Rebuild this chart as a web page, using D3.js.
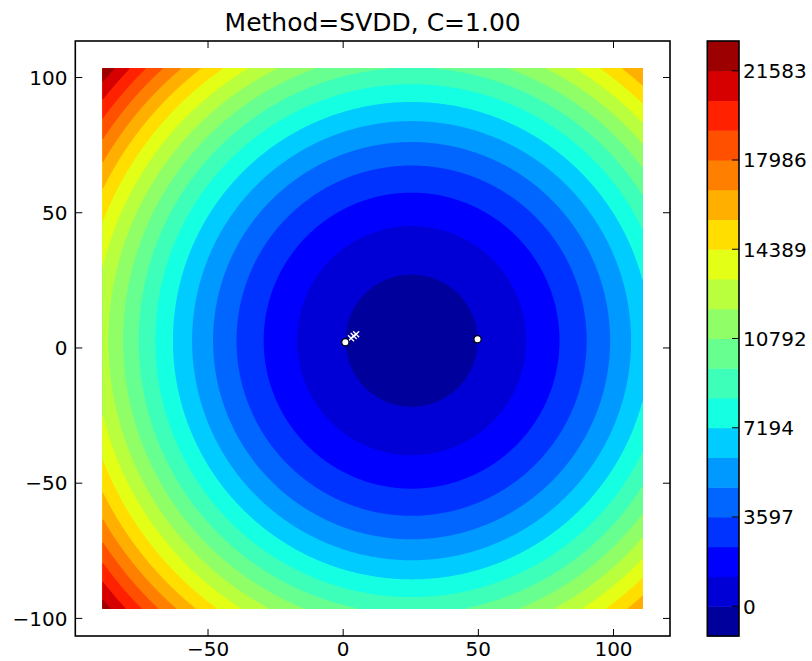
<!DOCTYPE html>
<html><head><meta charset="utf-8">
<script src="https://cdn.jsdelivr.net/npm/d3@7"></script>
<style>
body{margin:0;background:#fff}
svg{display:block}
text{font-family:"DejaVu Sans",sans-serif;fill:#000}
</style>
</head><body>
<svg id="chart" width="812" height="661"></svg>
<script>
// ---- data ----
const title = "Method=SVDD, C=1.00";
const xTicks = [-50, 0, 50, 100];
const yTicks = [-100, -50, 0, 50, 100];
const xDomain = [-99.1, 120.9];
const yDomain = [-106.5, 113.5];
const gridXRange = [-89.1, 110.9];
const gridYRange = [-96.5, 103.5];
const sphereCenter = [25.3, 2.7];
const sphereRadius2 = 597;
const levels = [-1199, 0, 1199, 2398, 3597, 4796, 5995, 7194, 8393, 9592, 10792,
                11991, 13190, 14389, 15588, 16787, 17986, 19185, 20384, 21583, 22782];
const colorbarTicks = [0, 3597, 7194, 10792, 14389, 17986, 21583];
const supportVectors = [[0.8, 2.1], [49.7, 3.2]];
const trainPoints = [[2.9, 3.6], [3.9, 4.4], [4.8, 5.1]];

// ---- jet colormap (matplotlib segment data) ----
const jetSeg = {
  r: [[0,0],[0.35,0],[0.66,1],[0.89,1],[1,0.5]],
  g: [[0,0],[0.125,0],[0.375,1],[0.64,1],[0.91,0],[1,0]],
  b: [[0,0.5],[0.11,1],[0.34,1],[0.65,0],[1,0]]
};
function segInterp(seg, t) {
  for (let i = 1; i < seg.length; i++) {
    if (t <= seg[i][0]) {
      const [x0, y0] = seg[i-1], [x1, y1] = seg[i];
      return y0 + (y1 - y0) * (t - x0) / (x1 - x0);
    }
  }
  return seg[seg.length-1][1];
}
function jet(t) {
  t = Math.max(0, Math.min(1, t));
  return d3.rgb(255*segInterp(jetSeg.r,t), 255*segInterp(jetSeg.g,t), 255*segInterp(jetSeg.b,t)).toString();
}
const nBands = levels.length - 1;
const bandColor = k => jet((k + 0.5) / nBands);

// ---- layout ----
const svg = d3.select("#chart");
const L = 75.3, R = 670, T = 41, B = 636;
const x = d3.scaleLinear().domain(xDomain).range([L, R]);
const y = d3.scaleLinear().domain(yDomain).range([B, T]);

// ---- field grid ----
const n = 400, m = 400;
const dx = (gridXRange[1] - gridXRange[0]) / n;
const dy = (gridYRange[1] - gridYRange[0]) / m;
const values = new Float64Array(n * m);
for (let j = 0; j < m; j++) {
  const gy = gridYRange[1] - (j + 0.5) * dy;
  for (let i = 0; i < n; i++) {
    const gx = gridXRange[0] + (i + 0.5) * dx;
    const ddx = gx - sphereCenter[0], ddy = gy - sphereCenter[1];
    values[j * n + i] = ddx*ddx + ddy*ddy - sphereRadius2;
  }
}
const contours = d3.contours().size([n, m]).thresholds(levels)(values);
const proj = d3.geoTransform({
  point(u, v) { this.stream.point(x(gridXRange[0] + u * dx), y(gridYRange[1] - v * dy)); }
});
const path = d3.geoPath(proj);
svg.append("g").selectAll("path")
  .data(contours)
  .join("path")
  .attr("d", path)
  .attr("fill", (d, i) => i < nBands ? bandColor(i) : "#fff")
  .attr("stroke", "none");

// ---- points ----
svg.append("g").selectAll("path")
  .data(trainPoints)
  .join("path")
  .attr("d", d => {
    const cx = x(d[0]), cy = y(d[1]), s = 3;
    return `M${cx-s},${cy-s}L${cx+s},${cy+s}M${cx-s},${cy+s}L${cx+s},${cy-s}`;
  })
  .attr("stroke", "#fff").attr("stroke-width", 1.3).attr("fill", "none");
svg.append("g").selectAll("circle")
  .data(supportVectors)
  .join("circle")
  .attr("cx", d => x(d[0])).attr("cy", d => y(d[1])).attr("r", 3.6)
  .attr("fill", "#fff").attr("stroke", "#000").attr("stroke-width", 1.2);

// ---- axes frame & ticks ----
const tl = 7;
const ax = svg.append("g");
ax.append("rect").attr("x", L).attr("y", T).attr("width", R - L).attr("height", B - T)
  .attr("fill", "none").attr("stroke", "#000").attr("stroke-width", 1.6);
const fmt = v => (v < 0 ? "\u2212" + Math.abs(v) : String(v));
xTicks.forEach(v => {
  const px = x(v);
  ax.append("line").attr("x1", px).attr("x2", px).attr("y1", B).attr("y2", B - tl).attr("stroke", "#000").attr("stroke-width", 1);
  ax.append("line").attr("x1", px).attr("x2", px).attr("y1", T).attr("y2", T + tl).attr("stroke", "#000").attr("stroke-width", 1);
  ax.append("text").attr("x", px).attr("y", 656).attr("text-anchor", "middle")
    .attr("font-size", 20).text(fmt(v));
});
yTicks.forEach(v => {
  const py = y(v);
  ax.append("line").attr("x1", L).attr("x2", L + tl).attr("y1", py).attr("y2", py).attr("stroke", "#000").attr("stroke-width", 1);
  ax.append("line").attr("x1", R).attr("x2", R - tl).attr("y1", py).attr("y2", py).attr("stroke", "#000").attr("stroke-width", 1);
  ax.append("text").attr("x", 67.5).attr("y", py + 7.3).attr("text-anchor", "end")
    .attr("font-size", 20).text(fmt(v));
});
svg.append("text").attr("x", (L + R) / 2).attr("y", 31).attr("text-anchor", "middle")
  .attr("font-size", 25).text(title);

// ---- colorbar ----
const cbL = 707.3, cbR = 739;
const cy = d3.scaleLinear().domain([levels[0], levels[levels.length-1]]).range([B, T]);
const cb = svg.append("g");
cb.selectAll("rect.band")
  .data(d3.range(nBands))
  .join("rect").attr("class", "band")
  .attr("x", cbL).attr("width", cbR - cbL)
  .attr("y", k => cy(levels[k+1]))
  .attr("height", k => cy(levels[k]) - cy(levels[k+1]) + 0.5)
  .attr("fill", k => bandColor(k));
cb.append("rect").attr("x", cbL).attr("y", T).attr("width", cbR - cbL).attr("height", B - T)
  .attr("fill", "none").attr("stroke", "#000").attr("stroke-width", 1.6);
colorbarTicks.forEach(v => {
  const py = cy(v);
  cb.append("line").attr("x1", cbR).attr("x2", cbR - tl).attr("y1", py).attr("y2", py).attr("stroke", "#000").attr("stroke-width", 1);
  cb.append("text").attr("x", 743).attr("y", py + 7.3).attr("font-size", 20).text(String(v));
});
</script>
</body></html>
